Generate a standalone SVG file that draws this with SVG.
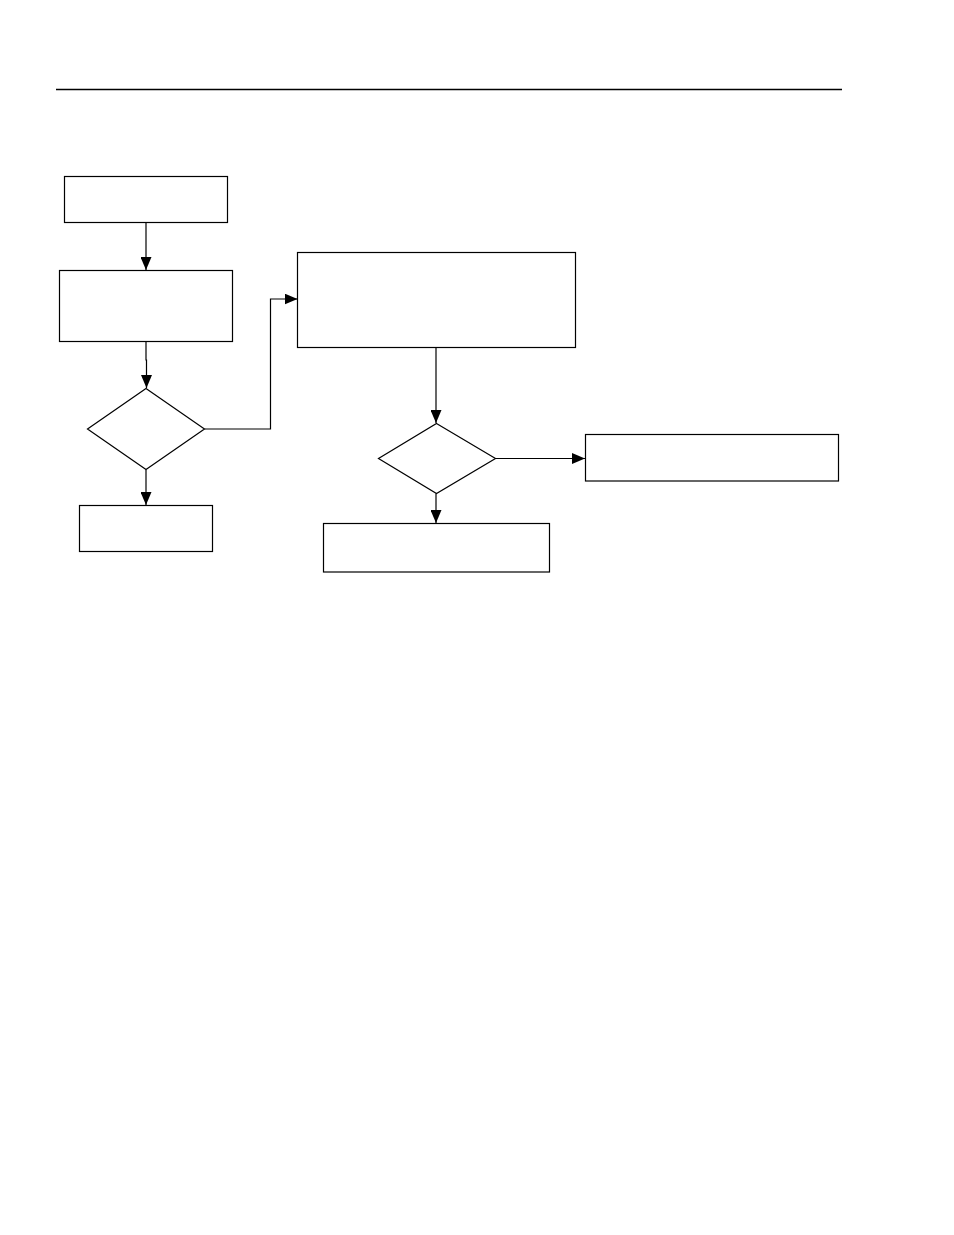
<svg xmlns="http://www.w3.org/2000/svg" width="954" height="1235" viewBox="0 0 954 1235">
<style>
.n{fill:#fff;stroke:#000;stroke-width:1.2}
.c{fill:none;stroke:#000;stroke-width:1.2}
</style>
<defs>
<marker id="ah" markerUnits="userSpaceOnUse" markerWidth="13" markerHeight="11" refX="13" refY="5.5" orient="auto">
<path d="M0,0 L13,5.5 L0,11 z" fill="#000"/>
</marker>
</defs>
<rect width="954" height="1235" fill="#fff"/>
<line x1="56" y1="89.5" x2="842" y2="89.5" stroke="#000" stroke-width="1.3"/>
<g id="connectors">
<path class="c" d="M146,223 V270" marker-end="url(#ah)"/>
<path class="c" d="M146,341 V360 H146.5 V388" marker-end="url(#ah)"/>
<path class="c" d="M146,469.5 V505" marker-end="url(#ah)"/>
<path class="c" d="M204.5,429 H270.5 V299 H297.5" marker-end="url(#ah)"/>
<path class="c" d="M436,347.5 V423" marker-end="url(#ah)"/>
<path class="c" d="M495.5,458.5 H585" marker-end="url(#ah)"/>
<path class="c" d="M436,493.5 V523" marker-end="url(#ah)"/>
</g>
<g id="box1"><rect class="n" x="64.5" y="176.5" width="163" height="46"/></g>
<g id="box2"><rect class="n" x="59.5" y="270.5" width="173" height="71"/></g>
<g id="dec1"><polygon class="n" points="146,388.5 204.5,429 146,469.5 87.5,429"/></g>
<g id="box3"><rect class="n" x="79.5" y="505.5" width="133" height="46"/></g>
<g id="box4"><rect class="n" x="297.5" y="252.5" width="278" height="95"/></g>
<g id="dec2"><polygon class="n" points="436.5,423.5 495.5,458.5 436.5,493.5 378.5,458.5"/></g>
<g id="box5"><rect class="n" x="585.5" y="434.5" width="253" height="46.5"/></g>
<g id="box6"><rect class="n" x="323.5" y="523.5" width="226" height="48.5"/></g>
</svg>
